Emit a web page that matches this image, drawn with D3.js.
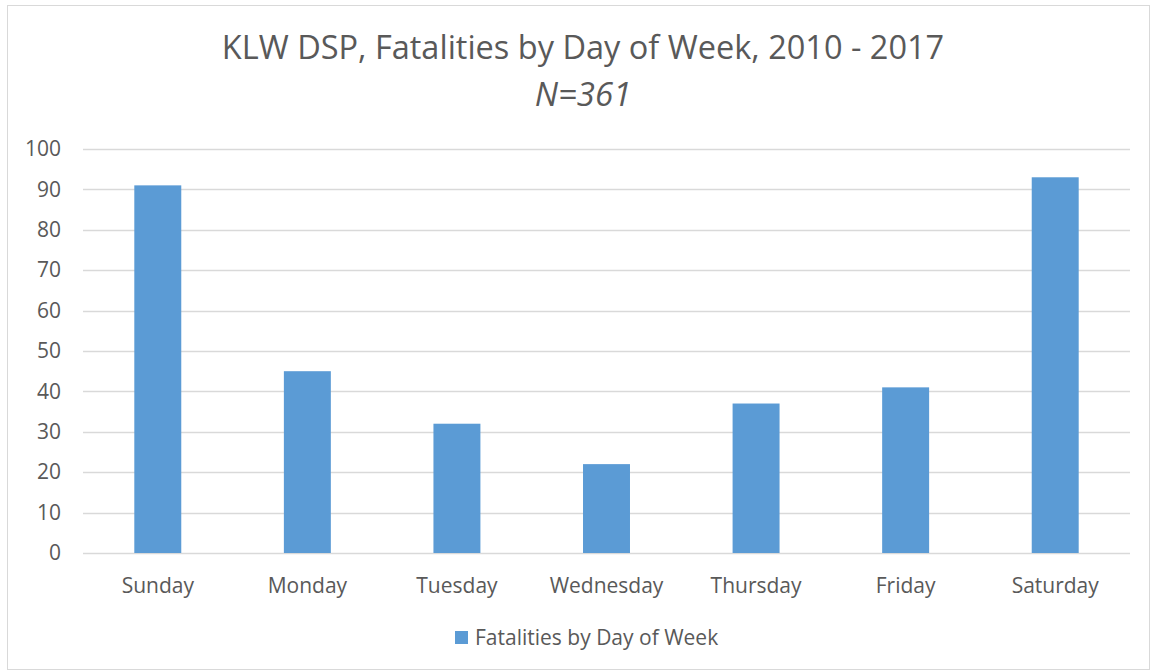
<!DOCTYPE html>
<html>
<head>
<meta charset="utf-8">
<script src="https://cdn.jsdelivr.net/npm/d3@7"></script>
<style>
  body { margin: 0; background: #fff; }
  text { font-family: "Open Sans", sans-serif; fill: #595959; }
</style>
</head>
<body>
<div id="chart"></div>
<script>
const days = ["Sunday", "Monday", "Tuesday", "Wednesday", "Thursday", "Friday", "Saturday"];
const fatalities = [91, 45, 32, 22, 37, 41, 93];
const yTicks = [0, 10, 20, 30, 40, 50, 60, 70, 80, 90, 100];
const seriesName = "Fatalities by Day of Week";

const width = 1152, height = 672;
const margin = { top: 149, right: 22, bottom: 119, left: 83 };

const svg = d3.select("#chart").append("svg")
  .attr("width", width)
  .attr("height", height);

// outer chart border
svg.append("rect")
  .attr("x", 7.5).attr("y", 5.5)
  .attr("width", width - 10).attr("height", height - 8)
  .attr("fill", "none")
  .attr("stroke", "#D9D9D9");

const x = d3.scaleBand()
  .domain(days)
  .range([margin.left, width - margin.right])
  .paddingInner(0.686)
  .paddingOuter(0.343);

const y = d3.scaleLinear()
  .domain([0, 100])
  .range([height - margin.bottom, margin.top]);

// gridlines
svg.append("g")
  .selectAll("line")
  .data(yTicks)
  .enter()
  .append("line")
  .attr("x1", margin.left)
  .attr("x2", width - margin.right)
  .attr("y1", d => Math.round(y(d)) + 0.5)
  .attr("y2", d => Math.round(y(d)) + 0.5)
  .attr("stroke", "#D9D9D9")
  .attr("stroke-width", 1.3);

// y axis labels
const yAxis = svg.append("g")
  .attr("transform", `translate(${margin.left}, 0)`)
  .call(d3.axisLeft(y).tickValues(yTicks).tickSize(0).tickPadding(22));
yAxis.select(".domain").remove();
yAxis.selectAll("text")
  .style("font-family", "'Open Sans', sans-serif")
  .style("font-size", "21px")
  .attr("fill", "#595959");

// bars
svg.append("g")
  .selectAll("rect")
  .data(fatalities)
  .enter()
  .append("rect")
  .attr("x", (d, i) => x(days[i]))
  .attr("y", d => y(d))
  .attr("width", x.bandwidth())
  .attr("height", d => y(0) - y(d))
  .attr("fill", "#5B9BD5");

// x axis labels
const xAxis = svg.append("g")
  .attr("transform", `translate(0, ${height - margin.bottom})`)
  .call(d3.axisBottom(x).tickSize(0).tickPadding(25));
xAxis.select(".domain").remove();
xAxis.selectAll("text")
  .style("font-family", "'Open Sans', sans-serif")
  .style("font-size", "21px")
  .attr("fill", "#595959");

// title
svg.append("text")
  .attr("x", 583)
  .attr("y", 59)
  .attr("text-anchor", "middle")
  .style("font-size", "32.5px")
  .text("KLW DSP, Fatalities by Day of Week, 2010 - 2017");

svg.append("text")
  .attr("x", 583)
  .attr("y", 106)
  .attr("text-anchor", "middle")
  .style("font-size", "33px")
  .style("font-style", "italic")
  .text("N=361");

// legend
const legend = svg.append("g").attr("transform", "translate(455, 631)");
legend.append("rect")
  .attr("width", 13).attr("height", 13)
  .attr("fill", "#5B9BD5");
legend.append("text")
  .attr("x", 20)
  .attr("y", 14)
  .style("font-size", "21px")
  .text(seriesName);
</script>
</body>
</html>
